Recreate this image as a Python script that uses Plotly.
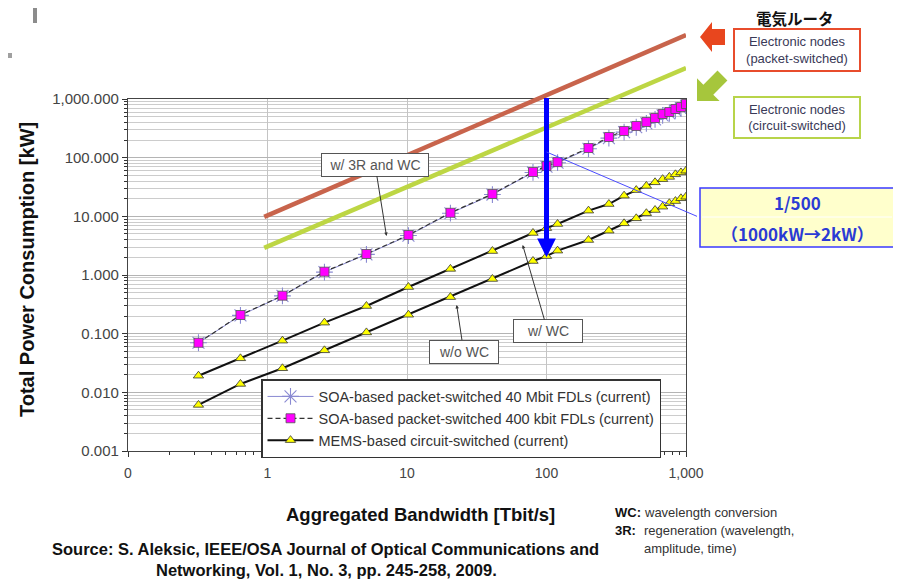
import math
import plotly.graph_objects as go

# ---------------- data ----------------
bandwidth = [0.32, 0.64, 1.28, 2.56, 5.12, 10.24, 20.48, 40.96, 80, 100, 120,
             200, 280, 360, 440, 520, 600, 680, 760, 840, 920, 1000]
soa_40mbit = [0.070, 0.205, 0.44, 1.12, 2.25, 4.7, 11.3, 23.5, 56, 70, 82,
              142, 215, 272, 330, 385, 450, 525, 570, 640, 690, 770]
soa_400kbit = [0.070, 0.208, 0.444, 1.14, 2.28, 4.8, 11.5, 24, 57, 72, 84,
               146, 225, 285, 347, 405, 474, 555, 600, 675, 730, 822]
mems_wc = [0.0192, 0.038, 0.076, 0.154, 0.296, 0.624, 1.27, 2.56, 5.2, 6.3, 7.4,
           12.5, 16.2, 22.5, 28, 33, 38, 43, 47, 52, 56, 60]
mems_wo_wc = [0.0061, 0.0139, 0.0257, 0.052, 0.105, 0.21, 0.42, 0.855, 1.73, 2.1, 2.6,
              3.95, 5.7, 7.6, 9.25, 11.3, 12.8, 14.6, 16.7, 18.2, 20.3, 21.6]
elec_bandwidth = [0.947, 1000]
elec_packet = [9.8, 12300]
elec_circuit = [2.9, 3380]

series_names = ["SOA-based packet-switched 40 Mbit FDLs (current)",
                "SOA-based packet-switched 400 kbit FDLs (current)",
                "MEMS-based circuit-switched (current)"]

# reduction arrow: 1000 kW -> 2 kW at 100 Tbit/s
reduction_bw = 100
reduction_from = 1100
reduction_to = 2

# ---------------- geometry (screen pixels; page body has an 8px margin) ----------------
W, H = 901, 581
OFF = 8
PLOT_L, PLOT_R = 128, 686       # screen x of 0.1 and 1000
TOP_PX, BOT_PX = 99, 451        # screen y of 1000 kW and 0.001 kW
PAPER_TOP = 10                  # screen y of paper top
L = PLOT_L - OFF
R = W - (PLOT_R - OFF)
T = PAPER_TOP - OFF
B = H - (BOT_PX - OFF)
PW = PLOT_R - PLOT_L
PH = BOT_PX - PAPER_TOP


def pxx(x):
    return (x - PLOT_L) / PW


def pxy(y):
    return (BOT_PX - y) / PH


FONT = "Liberation Sans, Arial, sans-serif"
CJK = "Noto Sans CJK JP, Liberation Sans, sans-serif"

fig = go.Figure()
fig.add_trace(go.Scatter(
    x=bandwidth, y=soa_40mbit, mode="lines+markers", name=series_names[0],
    line=dict(color="#8a8ad2", width=1),
    marker=dict(symbol="asterisk-open", size=14, line=dict(color="#6c6cd0", width=1.1))))
fig.add_trace(go.Scatter(
    x=bandwidth, y=soa_400kbit, mode="lines+markers", name=series_names[1],
    line=dict(color="#333333", width=1.2, dash="5px,3px"),
    marker=dict(symbol="square", size=9, color="#ff00ff", line=dict(color="#555555", width=0.8))))
fig.add_trace(go.Scatter(
    x=bandwidth, y=mems_wc, mode="lines+markers", name=series_names[2],
    line=dict(color="#111111", width=2),
    marker=dict(symbol="triangle-up", size=9, color="#ffff00", line=dict(color="#333333", width=0.8))))
fig.add_trace(go.Scatter(
    x=bandwidth, y=mems_wo_wc, mode="lines+markers", name=series_names[2], showlegend=False,
    line=dict(color="#111111", width=2),
    marker=dict(symbol="triangle-up", size=9, color="#ffff00", line=dict(color="#333333", width=0.8))))
fig.add_trace(go.Scatter(
    x=elec_bandwidth, y=elec_packet, xaxis="x2", yaxis="y2", mode="lines",
    line=dict(color="#c8644c", width=4.5), showlegend=False, hoverinfo="skip"))
fig.add_trace(go.Scatter(
    x=elec_bandwidth, y=elec_circuit, xaxis="x2", yaxis="y2", mode="lines",
    line=dict(color="#bdd644", width=4.5), showlegend=False, hoverinfo="skip"))

dec_per_px = 6 / (BOT_PX - TOP_PX)
y2_top = -3 + PH * dec_per_px

annotations = []


def ptext(x, y, text, size, color="#111", family=FONT, xanchor="center", **kw):
    d = dict(xref="paper", yref="paper", x=pxx(x), y=pxy(y), text=text, showarrow=False,
             xanchor=xanchor, yanchor="middle", font=dict(family=family, size=size, color=color))
    d.update(kw)
    annotations.append(d)


# axis titles
ptext(27, 270, "<b>Total Power Consumption [kW]</b>", 20, textangle=-90)
ptext(420, 514, "<b>Aggregated Bandwidth [Tbit/s]</b>", 18.5)
# source
ptext(325, 549, "<b>Source: S. Aleksic, IEEE/OSA Journal of Optical Communications and</b>", 16.5)
ptext(326, 570, "<b>Networking, Vol. 1, No. 3, pp. 245-258, 2009.</b>", 16.5)
# notes
for lab, yy in [("WC:", 512), ("3R:", 530)]:
    ptext(613, yy, "<b>" + lab + "</b>", 13, xanchor="left")
for txt, yy in [("wavelength conversion", 512), ("regeneration (wavelength,", 530),
                ("amplitude, time)", 548)]:
    ptext(642, yy, txt, 13, color="#333", xanchor="left")

# callouts (point in data units, box offset in pixels)
callouts = [
    ("w/ 3R and WC", 7.13, 4.62, -11.5, -71.5, 100),
    ("w/ WC", 67.5, 3.25, 25, 86, 62),
    ("w/o WC", 22.7, 0.308, 7, 46.5, 62),
]
for txt, cx, cy, ax, ay, wd in callouts:
    annotations.append(dict(x=math.log10(cx), y=math.log10(cy), xref="x", yref="y",
                            ax=ax, ay=ay, text=txt, showarrow=True, arrowhead=2,
                            arrowsize=0.7, arrowwidth=1, arrowcolor="#333",
                            bgcolor="white", bordercolor="#555", borderwidth=1, borderpad=3,
                            width=wd, height=16,
                            font=dict(family=FONT, size=14, color="#555")))

# big blue reduction arrow
annotations.append(dict(x=math.log10(reduction_bw), y=math.log10(reduction_to), xref="x", yref="y",
                        ax=math.log10(reduction_bw), ay=math.log10(reduction_from),
                        axref="x", ayref="y", text="", showarrow=True, arrowhead=2,
                        arrowsize=0.75, arrowwidth=5, arrowcolor="#0000ff"))
# thin callout line to the 1/500 box
annotations.append(dict(x=math.log10(reduction_bw), y=math.log10(125), xref="x", yref="y",
                        ax=152, ay=65, text="", showarrow=True, arrowhead=0,
                        arrowwidth=1, arrowcolor="#4a4aff"))
ptext(797, 202, "<b>1/500</b>", 17, color="#2b3bd4", family=CJK)
ptext(797, 233, "<b>（1000kW→2kW）</b>", 17, color="#2b3bd4", family=CJK)

# right side labels
ptext(795, 18, "<b>電気ルータ</b>", 15.5, family=CJK)
ptext(797, 50, "Electronic nodes<br>(packet-switched)", 13, color="#3a3a58",
      width=122, height=38, borderpad=1, borderwidth=2, bordercolor="#e84c2c", bgcolor="white")
ptext(797, 117.5, "Electronic nodes<br>(circuit-switched)", 13, color="#3a3a58",
      width=122, height=37, borderpad=1, borderwidth=2, bordercolor="#b8d44a", bgcolor="white")


def arrow_path(tip, direction, length, head_len, head_hw, shaft_hw):
    dx, dy = direction
    n = math.hypot(dx, dy)
    dx, dy = dx / n, dy / n
    nx, ny = -dy, dx
    local = [(0, 0), (head_len, head_hw), (head_len, shaft_hw), (length, shaft_hw),
             (length, -shaft_hw), (head_len, -shaft_hw), (head_len, -head_hw)]
    pts = []
    for u, v in local:
        sx = tip[0] - u * dx + v * nx
        sy = tip[1] - u * dy + v * ny
        pts.append((pxx(sx), pxy(sy)))
    return "M" + " L".join(f"{a:.5f},{b:.5f}" for a, b in pts) + " Z"


shapes = [
    dict(type="rect", xref="paper", yref="paper", x0=pxx(700), x1=pxx(894),
         y0=pxy(247), y1=pxy(188), fillcolor="#ffffcc", line=dict(color="#3a3aff", width=1.5),
         layer="above"),
    dict(type="line", xref="paper", yref="paper", x0=pxx(702), x1=pxx(892),
         y0=pxy(217), y1=pxy(217), line=dict(color="white", width=1), layer="above"),
    dict(type="path", xref="paper", yref="paper",
         path=arrow_path((700, 37), (-1, 0), 25, 12, 15, 8),
         fillcolor="#e8461e", line=dict(width=0)),
    dict(type="path", xref="paper", yref="paper",
         path=arrow_path((697, 101), (-1, 1), 36, 16, 16, 7),
         fillcolor="#a6c63c", line=dict(width=0)),
    dict(type="rect", xref="paper", yref="paper", x0=pxx(33), x1=pxx(37),
         y0=pxy(23), y1=pxy(8), fillcolor="#8c8c8c", line=dict(width=0)),
    dict(type="rect", xref="paper", yref="paper", x0=pxx(8), x1=pxx(12),
         y0=pxy(58), y1=pxy(53), fillcolor="#a0a0a0", line=dict(width=0)),
]

fig.update_layout(
    width=W, height=H,
    margin=dict(l=L, r=R, t=T, b=B, autoexpand=False),
    paper_bgcolor="white", plot_bgcolor="rgba(0,0,0,0)",
    font=dict(family=FONT, color="#333"),
    xaxis=dict(type="log", range=[-1, 3], domain=[0, 1], dtick=1, tickformat=",.0f",
               ticks="outside", ticklen=5, tickcolor="#333", ticklabelstandoff=4,
               showline=True, linecolor="#444", linewidth=1.2, mirror=True,
               showgrid=True, gridcolor="#c4c4c4", gridwidth=1, zeroline=False,
               tickfont=dict(family=FONT, size=14, color="#444"),
               minor=dict(dtick="D1", ticks="outside", ticklen=3, tickcolor="#333", showgrid=False)),
    yaxis=dict(type="log", range=[-3, 3], domain=[0, pxy(TOP_PX)], dtick=1, tickformat=",.3f",
               ticks="outside", ticklen=5, tickcolor="#333",
               showline=True, linecolor="#444", linewidth=1.2, mirror=True,
               showgrid=True, gridcolor="#b4b4b4", gridwidth=1, zeroline=False,
               tickfont=dict(family=FONT, size=15, color="#444"),
               minor=dict(dtick="D1", ticks="outside", ticklen=3, tickcolor="#333",
                          showgrid=True, gridcolor="#cccccc", gridwidth=1)),
    xaxis2=dict(type="log", range=[-1, 3], domain=[0, 1], anchor="y2", visible=False),
    yaxis2=dict(type="log", range=[-3, y2_top], domain=[0, 1], anchor="x2", visible=False),
    legend=dict(x=pxx(261), y=pxy(379), xanchor="left", yanchor="top",
                bgcolor="white", bordercolor="#333", borderwidth=1.5, itemwidth=46,
                font=dict(family=FONT, size=14.5, color="#333"), tracegroupgap=0),
    annotations=annotations,
    shapes=shapes,
    showlegend=True,
)

fig.write_html("out.html")
